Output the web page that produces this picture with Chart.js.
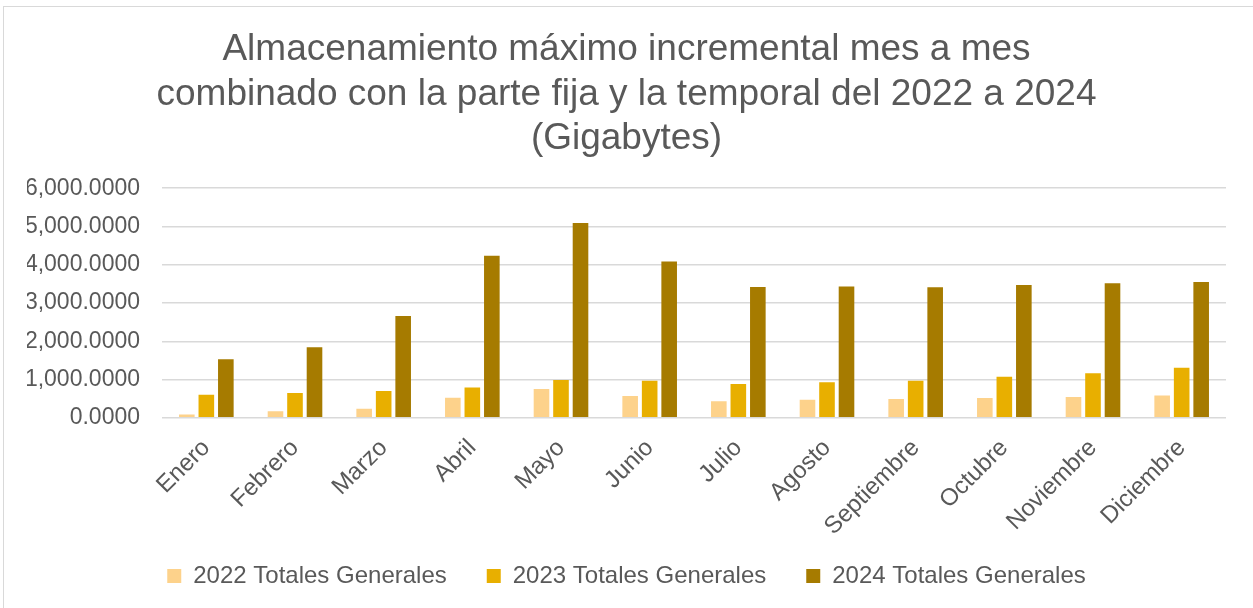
<!DOCTYPE html>
<html>
<head>
<meta charset="utf-8">
<script src="https://cdn.jsdelivr.net/npm/chart.js@4"></script>
<style>
  body { margin: 0; background: #fff; overflow: hidden; }
  #frame { position: absolute; left: 3px; top: 6px; width: 1270px; height: 620px; border: 1.5px solid #d9d9d9; box-sizing: border-box; }
  #wrap { position: absolute; left: 0; top: 0; width: 1253px; height: 608px; }
</style>
</head>
<body>
<div id="frame"></div>
<div id="wrap"><canvas id="my-chart"></canvas></div>
<script>
const meses = ["Enero", "Febrero", "Marzo", "Abril", "Mayo", "Junio", "Julio", "Agosto", "Septiembre", "Octubre", "Noviembre", "Diciembre"];
const totales2022 = [90, 175, 236, 525, 752, 569, 437, 472, 490, 516, 542, 586];
const totales2023 = [604, 647, 700, 796, 989, 971, 884, 927, 971, 1076, 1164, 1312];
const totales2024 = [1531, 1846, 2660, 4234, 5092, 4086, 3421, 3430, 3412, 3473, 3517, 3552];

const gris = "#595959";
const fuente = "'Liberation Sans', Arial, sans-serif";
const fmt = new Intl.NumberFormat("en-US", { minimumFractionDigits: 4, maximumFractionDigits: 4 });

const myChart = document.getElementById("my-chart");

new Chart(myChart, {
  type: "bar",
  data: {
    labels: meses,
    datasets: [
      {
        label: "2022 Totales Generales",
        data: totales2022,
        backgroundColor: "#FDD28B",
      },
      {
        label: "2023 Totales Generales",
        data: totales2023,
        backgroundColor: "#E8AF00",
      },
      {
        label: "2024 Totales Generales",
        data: totales2024,
        backgroundColor: "#A67B00",
      },
    ],
  },
  options: {
    responsive: true,
    maintainAspectRatio: false,
    animation: false,
    datasets: {
      bar: {
        categoryPercentage: 0.66,
        barPercentage: 0.8,
      },
    },
    layout: {
      padding: { left: 27, right: 27, top: 0, bottom: 10 },
    },
    plugins: {
      title: {
        display: true,
        text: [
          "Almacenamiento máximo incremental mes a mes",
          "combinado con la parte fija y la temporal del 2022 a 2024",
          "(Gigabytes)",
        ],
        color: gris,
        font: { family: fuente, size: 37, weight: "normal", lineHeight: 1.2 },
        padding: { top: 28, bottom: 27 },
      },
      legend: {
        position: "bottom",
        // empty title with negative padding pulls the legend row up
        title: {
          display: true,
          text: "",
          font: { size: 10, lineHeight: 1 },
          padding: { top: -43, bottom: 0 },
        },
        labels: {
          color: gris,
          font: { family: fuente, size: 24 },
          boxWidth: 14,
          boxHeight: 14,
          padding: 40,
        },
      },
      tooltip: { enabled: false },
    },
    scales: {
      x: {
        grid: { display: false, drawTicks: false },
        border: { display: false },
        ticks: {
          color: gris,
          font: { family: fuente, size: 24 },
          minRotation: 45,
          maxRotation: 45,
          padding: 16,
        },
      },
      y: {
        min: 0,
        max: 6000,
        grid: { color: "#d9d9d9", lineWidth: 1.5, drawTicks: false },
        border: { display: false },
        ticks: {
          stepSize: 1000,
          color: gris,
          font: { family: fuente, size: 23 },
          padding: 22,
          callback: (v) => fmt.format(v),
        },
        afterFit: (scale) => {
          scale.width = 135;
        },
      },
    },
  },
});
</script>
</body>
</html>
